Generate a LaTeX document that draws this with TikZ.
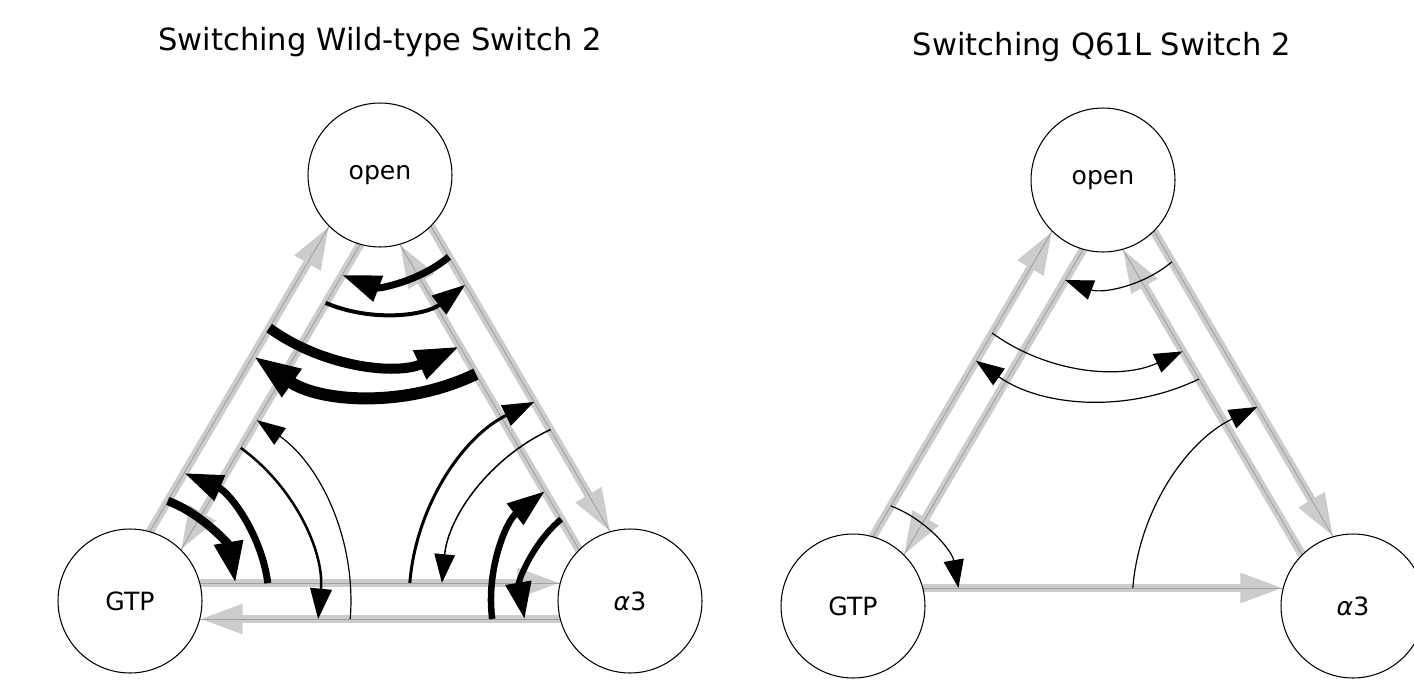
\documentclass[tikz,border=0pt]{standalone}
\usepackage{fontspec}
\setmainfont{DejaVu Sans}
\usetikzlibrary{arrows.meta,calc}
\definecolor{fluxgray}{RGB}{204,204,204}
\definecolor{fluxline}{RGB}{160,160,160}

\begin{document}
\begin{tikzpicture}
	[
	x = 0.02cm, y = 0.02cm,
	conf/.style = {circle, draw, line width=0.6pt, fill=white, minimum size=2.88cm, inner sep=0pt, font=\fontsize{14.3}{16}\selectfont},
	heading/.style = {anchor=base, font=\fontsize{17.4}{20}\selectfont},
	flux/.style = {draw=fluxgray, line width=0.17cm, shorten <=1.394cm, shorten >=1.394cm, -{Triangle[length=0.86cm, width=0.56cm]}, postaction={draw=fluxline, line width=0.5pt, -}},
	xfer/.style = {line width=#1, -{Triangle[length=0.52cm 1.8, width=0.38cm 1.0]}}
	]
	\useasboundingbox (0,0) rectangle (1414,-683);

	% wild type
	\node[heading] (wttitle) at (380,-50) {Switching Wild-type Switch 2};
	\coordinate (wtopenc) at (380,-175);
	\coordinate (wtgtpc) at (130,-601);
	\coordinate (wta3c) at (630,-601);

	\draw[flux] ($(wtgtpc)!0.36cm!90:(wtopenc)$) -- ($(wtopenc)!0.36cm!-90:(wtgtpc)$);
	\draw[flux] ($(wtopenc)!0.36cm!90:(wtgtpc)$) -- ($(wtgtpc)!0.36cm!-90:(wtopenc)$);
	\draw[flux] ($(wtopenc)!0.36cm!90:(wta3c)$) -- ($(wta3c)!0.36cm!-90:(wtopenc)$);
	\draw[flux] ($(wta3c)!0.36cm!90:(wtopenc)$) -- ($(wtopenc)!0.36cm!-90:(wta3c)$);
	\draw[flux] ($(wtgtpc)!0.36cm!90:(wta3c)$) -- ($(wta3c)!0.36cm!-90:(wtgtpc)$);
	\draw[flux] ($(wta3c)!0.36cm!90:(wtgtpc)$) -- ($(wtgtpc)!0.36cm!-90:(wta3c)$);

	\node[conf] (wtopen) at (wtopenc) {open};
	\node[conf] (wtgtp) at (wtgtpc) {GTP};
	\node[conf] (wta3) at (wta3c) {{\itshape α}3};

	\draw[xfer=0.14cm] ([shift={(-49.9:2.14cm)}]wtopen.center) arc[start angle=-49.9, end angle=-110.7, radius=2.14cm];
	\draw[xfer=0.08cm] ([shift={(-113.0:2.78cm)}]wtopen.center) arc[start angle=-113.0, end angle=-52.2, radius=2.78cm];
	\draw[xfer=0.20cm] ([shift={(-125.9:3.78cm)}]wtopen.center) arc[start angle=-125.9, end angle=-65.1, radius=3.78cm];
	\draw[xfer=0.24cm] ([shift={(-64.3:4.42cm)}]wtopen.center) arc[start angle=-64.3, end angle=-125.1, radius=4.42cm];

	\draw[xfer=0.17cm] ([shift={(69.3:2.14cm)}]wtgtp.center) arc[start angle=69.3, end angle=9.7, radius=2.14cm];
	\draw[xfer=0.14cm] ([shift={(7.4:2.78cm)}]wtgtp.center) arc[start angle=7.4, end angle=67.0, radius=2.78cm];
	\draw[xfer=0.05cm] ([shift={(54.1:3.78cm)}]wtgtp.center) arc[start angle=54.1, end angle=-5.5, radius=3.78cm];
	\draw[xfer=0.024cm] ([shift={(-4.7:4.42cm)}]wtgtp.center) arc[start angle=-4.7, end angle=54.9, radius=4.42cm];

	\draw[xfer=0.06cm] ([shift={(175.3:4.42cm)}]wta3.center) arc[start angle=175.3, end angle=115.7, radius=4.42cm];
	\draw[xfer=0.03cm] ([shift={(114.9:3.78cm)}]wta3.center) arc[start angle=114.9, end angle=174.5, radius=3.78cm];
	\draw[xfer=0.13cm] ([shift={(187.4:2.78cm)}]wta3.center) arc[start angle=187.4, end angle=127.8, radius=2.78cm];
	\draw[xfer=0.12cm] ([shift={(130.1:2.14cm)}]wta3.center) arc[start angle=130.1, end angle=189.7, radius=2.14cm];

	% Q61L
	\node[heading] (qtitle) at (1102,-55) {Switching Q61L Switch 2};
	\coordinate (qopenc) at (1103,-180);
	\coordinate (qgtpc) at (853,-606);
	\coordinate (qa3c) at (1353,-606);

	\draw[flux] ($(qgtpc)!0.36cm!90:(qopenc)$) -- ($(qopenc)!0.36cm!-90:(qgtpc)$);
	\draw[flux] ($(qopenc)!0.36cm!90:(qgtpc)$) -- ($(qgtpc)!0.36cm!-90:(qopenc)$);
	\draw[flux] ($(qopenc)!0.36cm!90:(qa3c)$) -- ($(qa3c)!0.36cm!-90:(qopenc)$);
	\draw[flux] ($(qa3c)!0.36cm!90:(qopenc)$) -- ($(qopenc)!0.36cm!-90:(qa3c)$);
	\draw[flux] ($(qgtpc)!0.36cm!90:(qa3c)$) -- ($(qa3c)!0.36cm!-90:(qgtpc)$);

	\node[conf] (qopen) at (qopenc) {open};
	\node[conf] (qgtp) at (qgtpc) {GTP};
	\node[conf] (qa3) at (qa3c) {{\itshape α}3};

	\draw[xfer=0.024cm] ([shift={(-49.9:2.14cm)}]qopen.center) arc[start angle=-49.9, end angle=-110.7, radius=2.14cm];
	\draw[xfer=0.024cm] ([shift={(-125.9:3.78cm)}]qopen.center) arc[start angle=-125.9, end angle=-65.1, radius=3.78cm];
	\draw[xfer=0.024cm] ([shift={(-64.3:4.42cm)}]qopen.center) arc[start angle=-64.3, end angle=-125.1, radius=4.42cm];
	\draw[xfer=0.024cm] ([shift={(69.3:2.14cm)}]qgtp.center) arc[start angle=69.3, end angle=9.7, radius=2.14cm];
	\draw[xfer=0.024cm] ([shift={(175.3:4.42cm)}]qa3.center) arc[start angle=175.3, end angle=115.7, radius=4.42cm];
\end{tikzpicture}
\end{document}
